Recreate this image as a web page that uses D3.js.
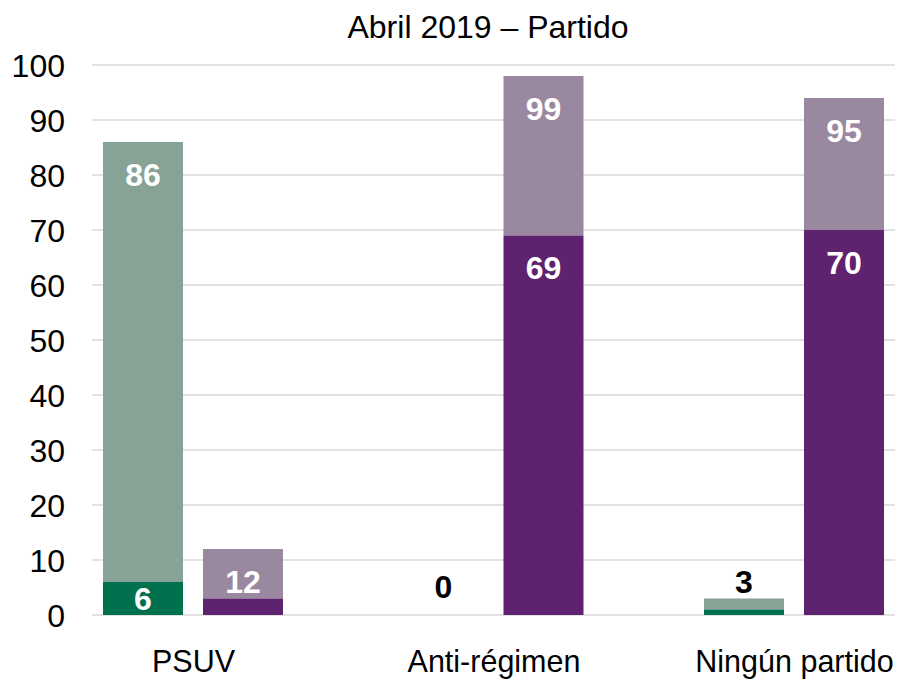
<!DOCTYPE html>
<html><head><meta charset="utf-8">
<script src="https://cdn.jsdelivr.net/npm/d3@7"></script>
<style>body{margin:0;background:#fff}svg{display:block;font-family:"Liberation Sans",Arial,sans-serif}</style>
</head><body>
<svg id="c" width="898" height="680"></svg>
<script>
const title = "Abril 2019 – Partido";
const categories = ["PSUV", "Anti-régimen", "Ningún partido"];
const greenTotal = [86, 0, 3];
const greenStrong = [6, 0, 1];
const purpleTotal = [12, 98, 94];
const purpleStrong = [3, 69, 70];
const greenTotalLabels = ["86", "0", "3"];
const greenStrongLabels = ["6", "", ""];
const purpleTotalLabels = ["12", "99", "95"];
const purpleStrongLabels = ["", "69", "70"];
const yTicks = [0, 10, 20, 30, 40, 50, 60, 70, 80, 90, 100];

const colors = {gL: "#86a396", gD: "#00714f", pL: "#9a88a0", pD: "#5f226e"};

const svg = d3.select("#c");
const y = d3.scaleLinear().domain([0, 100]).range([615, 65]);
const x = d3.scalePoint().domain(categories).range([193, 794]);
const barW = 80, gap = 20;
const gx0 = 92, gx1 = 895;
const FS = 32;

// gridlines
svg.append("g").selectAll("line").data(yTicks).join("line")
  .attr("x1", gx0).attr("x2", gx1)
  .attr("y1", d => y(d)).attr("y2", d => y(d))
  .attr("stroke", "#d9d9d9").attr("stroke-width", 1.3);

// y axis labels
const yAxis = d3.axisLeft(y).tickValues(yTicks).tickSize(0).tickPadding(0);
const ya = svg.append("g").attr("transform", "translate(65,0)").call(yAxis);
ya.select(".domain").remove();
ya.selectAll("text").attr("font-size", FS).attr("fill", "#000")
  .attr("font-family", "Liberation Sans, Arial, sans-serif").attr("dy", "0.36em");

// x labels
const xAxis = d3.axisBottom(x).tickSize(0).tickPadding(0);
const xa = svg.append("g").attr("transform", "translate(0,672)").call(xAxis);
xa.select(".domain").remove();
xa.selectAll("text").attr("font-size", 30.5).attr("fill", "#000")
  .attr("font-family", "Liberation Sans, Arial, sans-serif").attr("y", 0).attr("dy", 0);

const series = [
  {off: -gap/2 - barW, total: greenTotal, strong: greenStrong, tl: greenTotalLabels, sl: greenStrongLabels, cL: colors.gL, cD: colors.gD},
  {off: gap/2, total: purpleTotal, strong: purpleStrong, tl: purpleTotalLabels, sl: purpleStrongLabels, cL: colors.pL, cD: colors.pD}
];

series.forEach(s => {
  const g = svg.append("g");
  categories.forEach((c, i) => {
    const x0 = x(c) + s.off;
    const tot = s.total[i], st = s.strong[i];
    if (tot > 0) {
      g.append("rect").attr("x", x0).attr("width", barW)
        .attr("y", y(tot)).attr("height", y(st) - y(tot)).attr("fill", s.cL);
    }
    if (st > 0) {
      g.append("rect").attr("x", x0).attr("width", barW)
        .attr("y", y(st)).attr("height", y(0) - y(st)).attr("fill", s.cD);
    }
    const cx = x0 + barW / 2;
    if (s.tl[i] !== "") {
      const segH = y(st) - y(tot);
      let ly, fill;
      if (segH > 40) { ly = y(tot) + 32; fill = "#fff"; }
      else { ly = Math.min(y(tot) - 17, y(0) - 29); fill = "#000"; }
      g.append("text").attr("x", cx).attr("y", ly).attr("dy", "0.36em")
        .attr("text-anchor", "middle").attr("font-size", FS).attr("font-weight", "bold")
        .attr("fill", fill).text(s.tl[i]);
    }
    if (s.sl[i] !== "") {
      const ly = Math.min(y(st) + 32, (y(st) + y(0)) / 2);
      g.append("text").attr("x", cx).attr("y", ly).attr("dy", "0.36em")
        .attr("text-anchor", "middle").attr("font-size", FS).attr("font-weight", "bold")
        .attr("fill", "#fff").text(s.sl[i]);
    }
  });
});

svg.append("text").attr("x", 488).attr("y", 38).attr("text-anchor", "middle")
  .attr("font-size", FS).attr("fill", "#000").text(title);
</script>
</body></html>
